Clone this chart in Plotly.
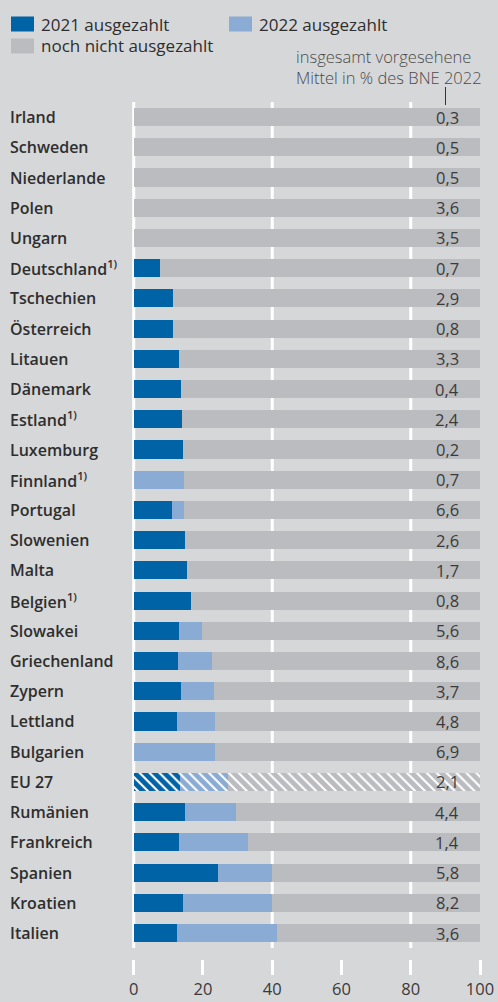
import plotly.graph_objects as go

countries = ["Irland", "Schweden", "Niederlande", "Polen", "Ungarn", "Deutschland",
             "Tschechien", "Österreich", "Litauen", "Dänemark", "Estland", "Luxemburg",
             "Finnland", "Portugal", "Slowenien", "Malta", "Belgien", "Slowakei",
             "Griechenland", "Zypern", "Lettland", "Bulgarien", "EU 27", "Rumänien",
             "Frankreich", "Spanien", "Kroatien", "Italien"]
footnoted = ["Deutschland", "Estland", "Finnland", "Belgien"]
paid_2021 = [0, 0, 0, 0, 0, 7.5, 11.2, 11.4, 13.2, 13.6, 14.0, 14.2, 0, 11.1, 14.9,
             15.3, 16.5, 13.1, 12.7, 13.7, 12.4, 0, 13.3, 14.7, 13.1, 24.2, 14.3, 12.4]
paid_2022 = [0, 0, 0, 0, 0, 0, 0, 0, 0, 0, 0, 0, 14.4, 3.5, 0, 0, 0, 6.6, 9.8, 9.4,
             11.0, 23.6, 13.8, 14.8, 19.8, 15.6, 25.7, 29.1]
bne_share = [0.3, 0.5, 0.5, 3.6, 3.5, 0.7, 2.9, 0.8, 3.3, 0.4, 2.4, 0.2, 0.7, 6.6,
             2.6, 1.7, 0.8, 5.6, 8.6, 3.7, 4.8, 6.9, 2.1, 4.4, 1.4, 5.8, 8.2, 3.6]
x_ticks = [0, 20, 40, 60, 80, 100]
grid_vals = [40, 80]
hatched = ["EU 27"]
note_text = "insgesamt vorgesehene<br>Mittel in % des BNE 2022"

not_paid = [round(100 - a - b, 1) for a, b in zip(paid_2021, paid_2022)]

C_DARK = "#0063a6"
C_LIGHT = "#8aabd3"
C_GREY = "#bbbcbf"
C_BG = "#d6d7d9"
C_TEXT = "#2e2e2e"
FONT = "Open Sans"

W, H = 498, 1002
ML, MR, MT, MB = 132, 18, 102, 43
PW, PH = W - ML - MR, H - MT - MB


def px_x(px):
    return (px - ML) / PW


def px_y(py):
    return (H - MB - py) / PH


fig = go.Figure()


def add_series(vals, color, name):
    shapes = ["\\" if c in hatched else "" for c in countries]
    fig.add_trace(go.Bar(
        y=countries, x=vals, orientation="h", name=name, width=0.6,
        marker=dict(color=color, line=dict(width=0),
                    pattern=dict(shape=shapes, fillmode="replace", bgcolor=color,
                                 fgcolor="white", size=7, solidity=0.3)),
        hoverinfo="x+y", showlegend=False))


add_series(paid_2021, C_DARK, "2021 ausgezahlt")
add_series(paid_2022, C_LIGHT, "2022 ausgezahlt")
add_series(not_paid, C_GREY, "noch nicht ausgezahlt")

annotations = []
for c, v in zip(countries, bne_share):
    label = c + ("<sup>1)</sup>" if c in footnoted else "")
    annotations.append(dict(x=px_x(8), xref="paper", y=c, yref="y", text=label,
                            xanchor="left", yanchor="middle", showarrow=False,
                            font=dict(family=FONT, size=16, color=C_TEXT, weight=600)))
    annotations.append(dict(x=94.6, xref="x", y=c, yref="y",
                            text=f"{v:.1f}".replace(".", ","),
                            xanchor="right", yanchor="middle", showarrow=False,
                            font=dict(family=FONT, size=16.5, color="#3a3a3a")))

# legend
legend_items = [("2021 ausgezahlt", C_DARK, 11, 24), ("2022 ausgezahlt", C_LIGHT, 229, 24),
                ("noch nicht ausgezahlt", C_GREY, 11, 46)]
shapes = []
for name, col, lx, ly in legend_items:
    shapes.append(dict(type="rect", xref="paper", yref="paper",
                       x0=px_x(lx), x1=px_x(lx + 23), y0=px_y(ly - 7.5), y1=px_y(ly + 7.5),
                       fillcolor=col, line=dict(width=0), layer="above"))
    annotations.append(dict(x=px_x(lx + 28), xref="paper", y=px_y(ly), yref="paper",
                            text=name, xanchor="left", yanchor="middle", showarrow=False,
                            font=dict(family=FONT, size=17, color=C_TEXT, weight=500)))

annotations.append(dict(x=px_x(294), xref="paper", y=px_y(67), yref="paper",
                        text=note_text, xanchor="left", yanchor="middle", align="left",
                        showarrow=False,
                        font=dict(family=FONT, size=16.5, color="#4a4a4a", weight=300)))
shapes.append(dict(type="line", xref="paper", yref="paper", x0=px_x(445.5), x1=px_x(445.5),
                   y0=px_y(105), y1=px_y(87), line=dict(color="#333333", width=1)))

# zero line and grid lines (stop above the tick marks)
for gv in [0] + grid_vals:
    shapes.append(dict(type="line", xref="x", yref="paper", x0=gv, x1=gv,
                       y0=px_y(948), y1=1, line=dict(color="white", width=3),
                       layer="below"))

fig.update_layout(
    width=W, height=H, barmode="stack", bargap=0.4,
    paper_bgcolor=C_BG, plot_bgcolor=C_BG,
    margin=dict(l=ML, r=MR, t=MT, b=MB, pad=0, autoexpand=False),
    xaxis=dict(range=[-0.5, 100], tickvals=x_ticks, showgrid=False, zeroline=False,
               showline=False, ticks="outside", ticklen=15, tickwidth=3,
               tickcolor="white", tickfont=dict(family=FONT, size=16.5, color="#3a3a3a"),
               fixedrange=True, automargin=False),
    yaxis=dict(categoryorder="array", categoryarray=countries,
               range=[27.86, -0.5], showticklabels=False, showgrid=False,
               zeroline=False, showline=False, ticks="", fixedrange=True,
               automargin=False),
    annotations=annotations, shapes=shapes,
    font=dict(family=FONT),
)

fig.write_html("out.html", config={"displayModeBar": False},
               post_script="document.body.style.margin='0';document.body.style.overflow='hidden';")
